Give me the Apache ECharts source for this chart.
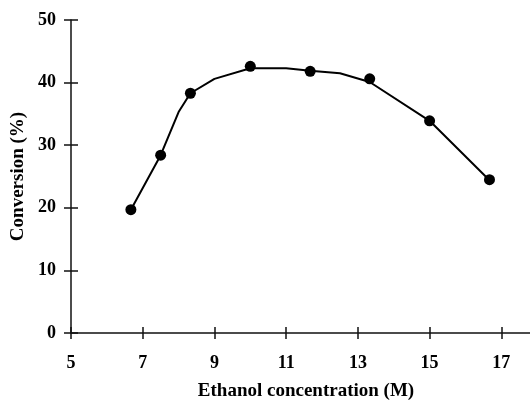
<!DOCTYPE html>
<html>
<head>
<meta charset="utf-8">
<script src="https://cdn.jsdelivr.net/npm/echarts@6/dist/echarts.min.js"></script>
<style>html,body{margin:0;padding:0;background:#fff}#c{width:530px;height:402px}</style>
</head>
<body>
<div id="c"></div>
<script>
// Measured points
const pointX = [6.67, 7.5, 8.33, 10.0, 11.67, 13.33, 15.0, 16.67];
const pointY = [19.7, 28.4, 38.3, 42.6, 41.8, 40.6, 33.9, 24.5];
// Fitted curve vertices
const curveX = [6.67, 7.5, 8.0, 8.33, 9.0, 10.0, 11.0, 11.67, 12.5, 13.33, 15.0, 16.67];
const curveY = [19.7, 28.4, 35.3, 38.3, 40.6, 42.3, 42.3, 41.9, 41.5, 40.1, 33.9, 24.4];
// Tick labels
const xTicks = [5, 7, 9, 11, 13, 15, 17];
const yTicks = [0, 10, 20, 30, 40, 50];
const xTitle = 'Ethanol concentration (M)';
const yTitle = 'Conversion (%)';

const font = 'Liberation Serif';
const lineCol = '#111';
const labelStyle = {fontFamily: font, fontWeight: 'bold', fontSize: 18, color: '#000'};
const titleStyle = {fontFamily: font, fontWeight: 'bold', fontSize: 19, color: '#000'};

const chart = echarts.init(document.getElementById('c'), null, {renderer: 'canvas'});
chart.setOption({
  animation: false,
  backgroundColor: '#fff',
  grid: {left: 71, right: 0, top: 20, bottom: 69, outerBoundsMode: 'none', containLabel: false},
  xAxis: [{
    type: 'value', min: 5, max: 17.8, position: 'bottom',
    axisLine: {onZero: false, lineStyle: {color: lineCol, width: 1.5}},
    axisTick: {show: true, length: 6, customValues: xTicks, lineStyle: {color: lineCol, width: 1.5}},
    axisLabel: Object.assign({margin: 21, customValues: xTicks}, labelStyle),
    splitLine: {show: false},
    name: xTitle, nameLocation: 'middle', nameGap: 49,
    nameTextStyle: Object.assign({padding: [0, 0, 0, 11]}, titleStyle)
  }, {
    type: 'value', min: 5, max: 17.8, position: 'bottom',
    axisLine: {show: false, onZero: false},
    axisTick: {show: true, inside: true, length: 6, customValues: xTicks, lineStyle: {color: lineCol, width: 1.5}},
    axisLabel: {show: false},
    splitLine: {show: false}
  }],
  yAxis: [{
    type: 'value', min: 0, max: 50, interval: 10, position: 'left',
    axisLine: {show: true, onZero: false, lineStyle: {color: lineCol, width: 1.5}},
    axisTick: {show: true, length: 7, lineStyle: {color: lineCol, width: 1.5}},
    axisLabel: Object.assign({margin: 15, customValues: yTicks}, labelStyle),
    splitLine: {show: false},
    name: yTitle, nameLocation: 'middle', nameGap: 40,
    nameTextStyle: titleStyle
  }, {
    type: 'value', min: 0, max: 50, interval: 10, position: 'left',
    axisLine: {show: false, onZero: false},
    axisTick: {show: true, inside: true, length: 7, lineStyle: {color: lineCol, width: 1.5}},
    axisLabel: {show: false},
    splitLine: {show: false}
  }],
  series: [{
    type: 'line',
    data: curveX.map((x, i) => [x, curveY[i]]),
    showSymbol: false, symbol: 'none',
    lineStyle: {color: '#000', width: 2},
    z: 2
  }, {
    type: 'scatter',
    data: pointX.map((x, i) => [x, pointY[i]]),
    symbol: 'circle', symbolSize: 11,
    itemStyle: {color: '#000', opacity: 1},
    z: 3
  }]
});
</script>
</body>
</html>
